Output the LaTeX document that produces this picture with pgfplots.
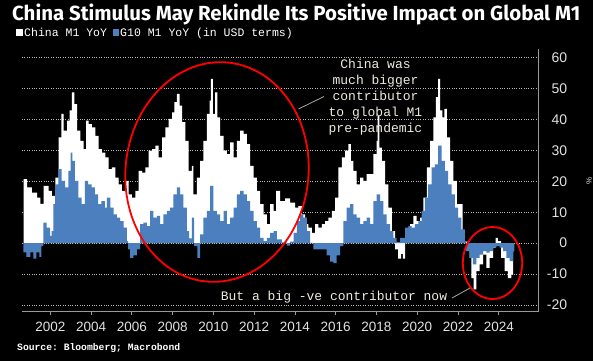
\documentclass[border=0pt]{standalone}
\usepackage{pgfplots}
\pgfplotsset{compat=1.18}
\usepackage{fontspec}
\setmainfont{Liberation Sans}
\setmonofont{Liberation Mono}
\newfontfamily\titlefont{Fira Sans}
\definecolor{g10blue}{RGB}{76,127,190}
\definecolor{anno}{RGB}{238,234,222}
\definecolor{ticktxt}{RGB}{225,225,225}
\begin{document}
\begin{tikzpicture}
\fill[black] (0pt,0pt) rectangle (593pt,-361pt);
\begin{axis}[at={(22pt,-311.7pt)}, anchor=south west, scale only axis,
  width=516.3pt, height=262.4pt,
  xmin=2000.61, xmax=2025.94, ymin=-22.2, ymax=62.7,
  axis x line*=bottom, axis y line*=right,
  axis line style={draw=gray!80, line width=0.9pt},
  xtick={2002,2004,...,2024},
  xticklabels={2002,2004,2006,2008,2010,2012,2014,2016,2018,2020,2022,2024},
  ytick={-20,-10,...,60},
  yticklabels={-20,-10,0,10,20,30,40,50,60},
  tick align=outside, major tick length=3pt,
  xtick style={draw=gray!80, line width=0.8pt},
  ytick style={draw=none},
  ymajorgrids, grid style={draw=gray!55, dotted, line width=0.8pt},
  xticklabel style={font=\fontsize{13.5}{14}\selectfont, text=ticktxt, inner sep=0pt, anchor=center, yshift=-12pt},
  yticklabel style={font=\fontsize{14}{15}\selectfont, text=ticktxt, inner sep=0pt, anchor=east, xshift=26pt},
]
\addplot[const plot, fill=white, draw=none] coordinates {
(2000.69,20.7) (2000.86,18.0) (2001.10,16.3) (2001.35,14.7) (2001.51,12.7) (2001.67,18.5)
(2001.92,16.9) (2002.08,15.3) (2002.25,21.2) (2002.41,34.2) (2002.54,41.8) (2002.65,36.4)
(2002.82,39.6) (2002.95,42.9) (2003.06,48.8) (2003.18,45.0) (2003.31,36.4) (2003.47,33.1)
(2003.63,30.4) (2003.76,39.6) (2003.88,38.5) (2004.04,37.4) (2004.21,34.7) (2004.37,30.4)
(2004.53,29.3) (2004.70,27.7) (2004.86,23.9) (2005.02,24.5) (2005.19,21.2) (2005.35,19.0)
(2005.51,16.9) (2005.68,20.1) (2005.84,15.8) (2006.00,14.7) (2006.17,16.9) (2006.33,23.4)
(2006.50,22.8) (2006.66,24.5) (2006.82,29.9) (2006.99,30.4) (2007.15,31.5) (2007.31,27.7)
(2007.48,34.2) (2007.64,37.4) (2007.80,40.2) (2007.97,42.3) (2008.08,45.6) (2008.21,48.3)
(2008.34,44.5) (2008.46,39.1) (2008.62,33.1) (2008.78,23.4) (2008.95,25.0) (2009.02,15.8)
(2009.19,21.2) (2009.35,26.6) (2009.51,33.1) (2009.68,41.8) (2009.81,46.1) (2009.88,53.1)
(2009.98,41.8) (2010.09,48.8) (2010.20,40.7) (2010.33,34.7) (2010.50,29.9) (2010.66,28.8)
(2010.82,32.6) (2010.99,27.7) (2011.15,33.1) (2011.31,36.4) (2011.48,35.3) (2011.64,32.0)
(2011.80,25.0) (2011.97,21.2) (2012.13,16.9) (2012.29,12.6) (2012.46,9.3) (2012.62,6.1)
(2012.78,12.6) (2012.95,10.4) (2013.08,16.9) (2013.27,13.6) (2013.52,14.5) (2013.76,13.1)
(2014.01,11.5) (2014.17,12.0) (2014.34,9.3) (2014.50,6.1) (2014.66,5.0) (2014.83,3.3)
(2014.99,6.1) (2015.15,5.0) (2015.32,6.1) (2015.48,7.1) (2015.64,8.2) (2015.81,10.4)
(2015.97,14.7) (2016.13,24.5) (2016.30,27.7) (2016.46,29.9) (2016.62,32.0) (2016.74,26.6)
(2016.87,23.4) (2017.03,19.0) (2017.20,21.2) (2017.36,20.1) (2017.52,22.3) (2017.69,22.3)
(2017.85,28.8) (2018.01,33.1) (2018.06,41.2) (2018.14,30.9) (2018.26,26.6) (2018.42,19.0)
(2018.58,11.5) (2018.75,3.9) (2018.91,-2.0) (2019.06,-5.0) (2019.21,-3.5) (2019.30,-5.0)
(2019.40,1.7) (2019.65,6.1) (2019.81,8.8) (2019.97,7.1) (2020.14,8.2) (2020.30,14.7)
(2020.47,24.5) (2020.63,33.1) (2020.79,40.7) (2020.92,47.2) (2021.02,53.1) (2021.12,42.9)
(2021.23,40.7) (2021.33,43.4) (2021.45,34.2) (2021.61,26.6) (2021.77,20.1) (2021.94,12.6)
(2022.10,12.6) (2022.23,3.9) (2022.34,0.5) (2022.49,-0.5) (2022.57,-4.8) (2022.65,-11.3)
(2022.77,-15.0) (2022.90,-9.1) (2023.06,-6.9) (2023.23,-3.7) (2023.39,-8.0) (2023.55,-4.8)
(2023.72,-1.5) (2023.85,1.7) (2023.96,0.6) (2024.12,-4.8) (2024.29,-9.1) (2024.45,-11.3)
(2024.62,-10.2) (2024.70,-2.6) (2024.75,-2.6)
} \closedcycle;
\addplot[const plot, fill=g10blue, draw=none] coordinates {
(2000.68,-3.0) (2000.82,-4.5) (2001.02,-3.0) (2001.17,-5.0) (2001.31,-3.0) (2001.46,-4.5)
(2001.56,-1.0) (2001.66,6.6) (2001.82,5.0) (2001.99,2.3) (2002.06,3.9) (2002.15,12.6)
(2002.23,19.0) (2002.39,23.9) (2002.55,20.1) (2002.72,18.0) (2002.88,23.4) (2003.00,29.3)
(2003.08,26.6) (2003.21,20.1) (2003.37,14.7) (2003.53,12.6) (2003.70,20.1) (2003.86,19.0)
(2004.02,18.0) (2004.19,15.8) (2004.35,12.6) (2004.51,13.6) (2004.68,11.5) (2004.78,14.7)
(2004.94,11.5) (2005.10,9.3) (2005.27,8.2) (2005.43,7.1) (2005.59,5.0) (2005.76,0.6)
(2005.82,-2.0) (2005.92,-4.8) (2006.08,-4.0) (2006.25,-2.0) (2006.41,6.1) (2006.57,6.6)
(2006.74,5.5) (2006.90,10.4) (2007.06,8.2) (2007.23,8.8) (2007.39,6.1) (2007.55,9.3)
(2007.72,10.4) (2007.88,11.5) (2008.04,15.8) (2008.21,18.0) (2008.37,15.8) (2008.53,11.5)
(2008.70,3.9) (2008.81,1.5) (2008.95,8.2) (2009.06,-1.0) (2009.21,-4.8) (2009.35,2.8)
(2009.51,8.2) (2009.68,10.4) (2009.84,18.5) (2010.00,10.4) (2010.17,9.3) (2010.33,7.1)
(2010.50,10.4) (2010.66,6.1) (2010.82,8.2) (2010.99,11.5) (2011.15,15.8) (2011.31,16.9)
(2011.48,15.8) (2011.64,13.6) (2011.80,10.4) (2011.97,7.1) (2012.13,5.0) (2012.29,1.7)
(2012.46,0.6) (2012.62,1.7) (2012.78,3.3) (2012.95,3.9) (2013.11,1.2) (2013.36,0.2)
(2013.60,-0.8) (2013.76,0.5) (2013.93,3.3) (2014.09,7.1) (2014.25,9.3) (2014.42,8.2)
(2014.58,3.9) (2014.75,0.1) (2014.91,-2.0) (2015.24,-2.0) (2015.56,-4.0) (2015.73,-6.0)
(2015.89,-6.5) (2016.05,-4.0) (2016.22,-1.0) (2016.38,7.1) (2016.54,11.5) (2016.71,12.6)
(2016.87,9.3) (2017.03,8.2) (2017.20,6.1) (2017.36,7.1) (2017.52,8.2) (2017.69,6.1)
(2017.85,13.6) (2018.01,15.8) (2018.18,13.6) (2018.34,9.3) (2018.50,6.1) (2018.67,3.9)
(2018.83,1.7) (2018.99,0.3) (2019.16,1.7) (2019.40,5.0) (2019.56,5.5) (2019.73,5.0)
(2019.89,6.1) (2020.05,7.1) (2020.22,10.4) (2020.38,14.7) (2020.54,19.0) (2020.71,24.5)
(2020.87,25.5) (2021.03,31.5) (2021.20,26.6) (2021.36,23.4) (2021.52,19.0) (2021.69,15.8)
(2021.85,11.5) (2022.01,8.2) (2022.17,4.4) (2022.34,0.6) (2022.40,-2.6) (2022.57,-4.8)
(2022.73,-6.9) (2022.90,-4.8) (2023.06,-3.7) (2023.23,-2.6) (2023.39,-3.1) (2023.55,-2.6)
(2023.72,-1.5) (2023.88,-1.0) (2024.04,-1.5) (2024.21,-2.6) (2024.37,-4.8) (2024.53,-5.8)
(2024.70,-2.6) (2024.75,-2.6)
} \closedcycle;
\end{axis}
% title, legend, source
\node[anchor=west, inner sep=0pt, text=white] at (12pt,-14pt)
  {\resizebox{568pt}{!}{\titlefont\bfseries China Stimulus May Rekindle Its Positive Impact on Global M1}};
\fill[white] (16pt,-29.5pt) rectangle (22.5pt,-36pt);
\node[anchor=base west, inner sep=0pt, text=white, font=\ttfamily\fontsize{11.5}{12}\selectfont] at (24pt,-37pt) {China M1 YoY};
\fill[g10blue] (112.5pt,-29.5pt) rectangle (118.5pt,-36pt);
\node[anchor=base west, inner sep=0pt, text=white, font=\ttfamily\fontsize{11.5}{12}\selectfont] at (120pt,-37pt) {G10 M1 YoY (in USD terms)};
\node[anchor=west, inner sep=0pt, text=white, font=\ttfamily\bfseries\fontsize{9.7}{10}\selectfont] at (17pt,-348pt) {Source: Bloomberg; Macrobond};
\node[rotate=90, text=ticktxt, font=\fontsize{8}{8}\selectfont, inner sep=0pt] at (589pt,-181pt) {\%};
% annotations
\draw[red, line width=1.8pt, rotate around={-6:(217pt,-172pt)}] (217pt,-172pt) ellipse (91.5pt and 110pt);
\draw[red, line width=1.8pt] (492.5pt,-263pt) ellipse (29.7pt and 36pt);
\draw[gray!70, line width=0.8pt] (324pt,-96.5pt) -- (298.5pt,-109pt);
\draw[gray!70, line width=0.8pt] (452pt,-298pt) -- (470pt,-288pt);
\node[align=center, text=anno, inner sep=0pt, font=\ttfamily\fontsize{13}{16}\selectfont] at (375.5pt,-97pt)
  {China was\\much bigger\\contributor\\to global M1\\pre-pandemic};
\node[text=anno, inner sep=0pt, font=\ttfamily\fontsize{13}{16}\selectfont] at (334pt,-297pt) {But a big -ve contributor now};
\end{tikzpicture}
\end{document}
